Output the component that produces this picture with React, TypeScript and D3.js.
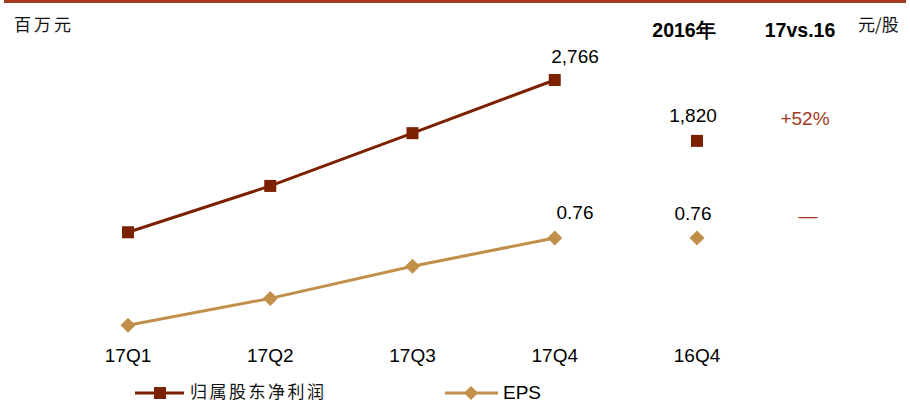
import React from "react";
import * as d3 from "d3";

const categories = ["17Q1", "17Q2", "17Q3", "17Q4", "16Q4"];
const profit = [400, 1120, 1940, 2766];
const eps = [0.11, 0.31, 0.55, 0.76];
const profit2016 = 1820;
const eps2016 = 0.76;
const growthProfit = "+52%";
const growthEps = "—";
const legendLabels = ["归属股东净利润", "EPS"];

const W = 910;
const H = 402;
const RED = "#7B2100";
const GOLD = "#C08F4A";
const ACCENT = "#A33A1E";
const FONT = "Arial, 'Liberation Sans', sans-serif";
const CJK = "'Noto Sans CJK SC', sans-serif";

export default function App() {
  const x = d3.scalePoint<string>().domain(categories).range([128, 697]);
  const yP = d3.scaleLinear().domain([0, 2766]).range([258, 80]);
  const yE = d3.scaleLinear().domain([0, 0.76]).range([340, 238]);

  const q = categories.slice(0, 4);
  const lineP = d3
    .line<number>()
    .x((_, i) => x(q[i])!)
    .y((d) => yP(d));
  const lineE = d3
    .line<number>()
    .x((_, i) => x(q[i])!)
    .y((d) => yE(d));

  const sq = 12;
  const diamond = (cx: number, cy: number, r = 7.5) =>
    `M${cx},${cy - r}L${cx + r},${cy}L${cx},${cy + r}L${cx - r},${cy}Z`;

  const x16 = x("16Q4")!;

  return (
    <svg
      width={W}
      height={H}
      style={{ position: "absolute", left: 0, top: 0, background: "#fff" }}
    >
      <rect x={4} y={0} width={902} height={3} fill={ACCENT} />
      <text x={14} y={31} fontFamily={CJK} fontSize={17} letterSpacing={3} fill="#111">
        百万元
      </text>
      <text x={858} y={31} fontFamily={CJK} fontSize={17} fill="#111">
        元/股
      </text>
      <text x={684} y={37} textAnchor="middle" fontFamily={FONT} fontWeight="bold" fontSize={19.5} fill="#000">
        2016年
      </text>
      <text x={800} y={37} textAnchor="middle" fontFamily={FONT} fontWeight="bold" fontSize={19.5} fill="#000">
        17vs.16
      </text>

      <path d={lineP(profit)!} fill="none" stroke={RED} strokeWidth={3} />
      <path d={lineE(eps)!} fill="none" stroke={GOLD} strokeWidth={3} />

      {profit.map((v, i) => (
        <rect key={"p" + i} x={x(q[i])! - sq / 2} y={yP(v) - sq / 2} width={sq} height={sq} fill={RED} />
      ))}
      {eps.map((v, i) => (
        <path key={"e" + i} d={diamond(x(q[i])!, yE(v))} fill={GOLD} />
      ))}

      <rect x={x16 - sq / 2} y={yP(profit2016) - sq / 2} width={sq} height={sq} fill={RED} />
      <path d={diamond(x16, yE(eps2016))} fill={GOLD} />

      <text x={575} y={yP(profit[3]) - 17} textAnchor="middle" fontFamily={FONT} fontSize={19} fill="#000">
        {d3.format(",")(profit[3])}
      </text>
      <text x={575} y={yE(eps[3]) - 19} textAnchor="middle" fontFamily={FONT} fontSize={19} fill="#000">
        {d3.format(".2f")(eps[3])}
      </text>
      <text x={693} y={yP(profit2016) - 19} textAnchor="middle" fontFamily={FONT} fontSize={19} fill="#000">
        {d3.format(",")(profit2016)}
      </text>
      <text x={693} y={yE(eps2016) - 18} textAnchor="middle" fontFamily={FONT} fontSize={19} fill="#000">
        {d3.format(".2f")(eps2016)}
      </text>
      <text x={805} y={125} textAnchor="middle" fontFamily={FONT} fontSize={19} fill={ACCENT}>
        {growthProfit}
      </text>
      <text x={808} y={222} textAnchor="middle" fontFamily={FONT} fontSize={19} fill={ACCENT}>
        {growthEps}
      </text>

      {categories.map((c) => (
        <text key={c} x={x(c)!} y={362} textAnchor="middle" fontFamily={FONT} fontSize={19} fill="#000">
          {c}
        </text>
      ))}

      <line x1={135} x2={184} y1={393} y2={393} stroke={RED} strokeWidth={3} />
      <rect x={160 - 6} y={393 - 6} width={12} height={12} fill={RED} />
      <text x={190} y={398} fontFamily={CJK} fontSize={17} letterSpacing={2.5} fill="#111">
        {legendLabels[0]}
      </text>
      <line x1={445} x2={498} y1={393} y2={393} stroke={GOLD} strokeWidth={3} />
      <path d={diamond(471, 393, 7)} fill={GOLD} />
      <text x={503} y={399} fontFamily={FONT} fontSize={19} fill="#000">
        {legendLabels[1]}
      </text>
    </svg>
  );
}
